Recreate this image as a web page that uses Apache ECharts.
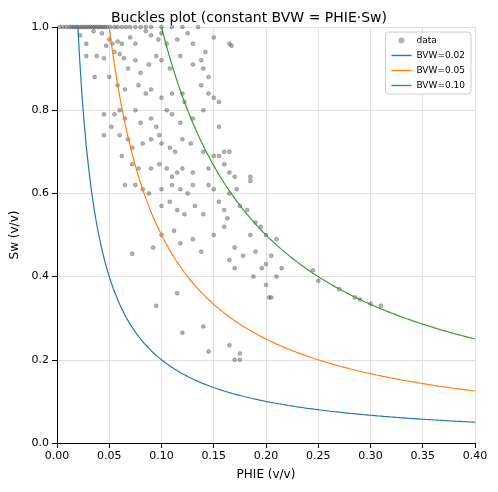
<!DOCTYPE html>
<html><head><meta charset="utf-8">
<script src="https://cdn.jsdelivr.net/npm/echarts@6/dist/echarts.min.js"></script>
<style>body{margin:0}#chart{width:498px;height:492px}</style></head>
<body><div id="chart"></div>
<script>
// scatter points: [PHIE, Sw]
const dataPoints = [
[0.003,1],[0.006,1],[0.009,1],[0.012,1],[0.014,1],[0.016,1],[0.018,1],[0.02,1],[0.022,1],[0.024,1],[0.026,1],[0.028,1],[0.03,1],[0.032,1],[0.034,1],[0.036,1],[0.038,1],[0.04,1],[0.042,1],[0.044,1],[0.046,1],[0.048,1],[0.051,1],[0.055,1],[0.058,1],[0.062,1],[0.066,1],[0.07,1],[0.075,1],[0.08,1],[0.085,1],[0.09,1],[0.1,1],[0.11,1],[0.12,1],[0.135,1],
[0.022,0.98],[0.035,0.99],[0.043,0.985],[0.028,0.96],[0.047,0.955],[0.05,0.97],[0.053,0.96],[0.058,0.965],[0.062,0.96],[0.07,0.975],[0.075,0.96],[0.085,0.99],[0.09,0.98],[0.097,0.97],[0.1,0.985],[0.105,0.96],[0.115,0.97],[0.125,0.985],[0.13,0.96],[0.142,0.94],[0.15,0.975],[0.165,0.96],[0.167,0.955],
[0.028,0.93],[0.038,0.93],[0.045,0.925],[0.055,0.94],[0.06,0.935],[0.064,0.925],[0.068,0.9],[0.075,0.92],[0.08,0.89],[0.088,0.91],[0.095,0.93],[0.1,0.92],[0.108,0.9],[0.118,0.93],[0.13,0.91],[0.138,0.92],[0.14,0.9],[0.145,0.88],
[0.036,0.88],[0.05,0.88],[0.058,0.86],[0.065,0.85],[0.078,0.86],[0.085,0.84],[0.09,0.85],[0.1,0.83],[0.11,0.84],[0.12,0.84],[0.122,0.82],[0.138,0.86],[0.145,0.84],[0.15,0.83],[0.155,0.82],
[0.045,0.79],[0.055,0.79],[0.06,0.8],[0.065,0.78],[0.075,0.8],[0.08,0.77],[0.09,0.78],[0.095,0.76],[0.105,0.8],[0.11,0.79],[0.118,0.77],[0.13,0.78],[0.14,0.8],[0.155,0.76],
[0.045,0.74],[0.052,0.76],[0.06,0.74],[0.068,0.73],[0.072,0.71],[0.082,0.72],[0.09,0.73],[0.098,0.74],[0.1,0.72],[0.108,0.71],[0.113,0.7],[0.12,0.73],[0.128,0.72],[0.14,0.7],[0.15,0.69],[0.155,0.69],[0.16,0.7],[0.165,0.7],
[0.062,0.69],[0.072,0.67],[0.078,0.66],[0.09,0.66],[0.098,0.67],[0.105,0.66],[0.11,0.64],[0.115,0.65],[0.12,0.66],[0.13,0.65],[0.145,0.66],[0.16,0.67],[0.165,0.65],[0.17,0.64],
[0.065,0.62],[0.075,0.62],[0.082,0.61],[0.088,0.6],[0.1,0.61],[0.11,0.62],[0.118,0.61],[0.125,0.6],[0.13,0.62],[0.145,0.62],[0.15,0.61],[0.165,0.6],[0.172,0.61],[0.185,0.63],[0.185,0.64],
[0.1,0.57],[0.108,0.58],[0.115,0.56],[0.122,0.55],[0.132,0.57],[0.14,0.55],[0.155,0.58],[0.16,0.56],[0.175,0.57],[0.182,0.56],[0.19,0.53],[0.195,0.52],[0.2,0.5],[0.21,0.49],
[0.1,0.5],[0.112,0.51],[0.118,0.48],[0.13,0.49],[0.138,0.46],[0.15,0.5],[0.16,0.52],[0.163,0.54],[0.17,0.47],[0.178,0.45],[0.185,0.5],[0.19,0.46],[0.196,0.42],[0.2,0.43],[0.205,0.45],[0.215,0.42],
[0.072,0.455],[0.092,0.47],[0.165,0.44],[0.17,0.42],[0.188,0.4],[0.2,0.38],[0.203,0.35],[0.205,0.35],[0.21,0.4],
[0.095,0.33],[0.115,0.36],[0.12,0.265],[0.14,0.28],[0.145,0.22],[0.165,0.235],[0.17,0.2],[0.175,0.2],[0.175,0.215],
[0.245,0.415],[0.25,0.39],[0.27,0.37],[0.285,0.35],[0.29,0.345],[0.3,0.335],[0.31,0.33]
];
const bvwValues = [0.02, 0.05, 0.10];
const bvwColors = ['#1f77b4', '#ff7f0e', '#2ca02c'];

function curve(b) {
  const pts = [];
  for (let x = b; x <= 0.4001; x += 0.002) pts.push([x, b / x]);
  return pts;
}

const chart = echarts.init(document.getElementById('chart'));
const font = 'DejaVu Sans';
const lineIcon = 'path://M0,0H20V1.4H0Z';
chart.setOption({
  animation: false,
  textStyle: { fontFamily: font },
  title: { text: 'Buckles plot (constant BVW = PHIE·Sw)', left: 'center', top: 6,
    textStyle: { fontFamily: font, fontSize: 14, fontWeight: 'normal', color: '#000' } },
  grid: { left: 57, right: 23, top: 27, bottom: 49 },
  legend: {
    right: 27, top: 32, orient: 'vertical', itemWidth: 20, itemHeight: 6, itemGap: 6,
    backgroundColor: '#fff', borderColor: '#ccc', borderWidth: 1, borderRadius: 3, padding: [4, 6],
    textStyle: { fontSize: 9, color: '#000' },
    data: [{ name: 'data', icon: 'circle', itemStyle: { color: 'rgba(80,80,80,0.55)', borderWidth: 0 } }]
      .concat(bvwValues.map(b => ({ name: 'BVW=' + b.toFixed(2), icon: lineIcon })))
  },
  xAxis: {
    type: 'value', min: 0, max: 0.4, interval: 0.05, name: 'PHIE (v/v)', nameLocation: 'middle', nameGap: 26,
    nameTextStyle: { fontSize: 12, color: '#000' },
    axisLine: { onZero: false, lineStyle: { color: '#000' } }, axisTick: { show: true, lineStyle: { color: '#000' } },
    axisLabel: { color: '#000', fontSize: 11, formatter: v => v.toFixed(2) },
    splitLine: { lineStyle: { color: '#e0e0e0' } }
  },
  yAxis: {
    type: 'value', min: 0, max: 1, interval: 0.2, name: 'Sw (v/v)', nameLocation: 'middle', nameGap: 32,
    nameTextStyle: { fontSize: 12, color: '#000' },
    axisLine: { show: true, lineStyle: { color: '#000' } }, axisTick: { show: true, lineStyle: { color: '#000' } },
    axisLabel: { color: '#000', fontSize: 11, formatter: v => v.toFixed(1) },
    splitLine: { lineStyle: { color: '#e0e0e0' } }
  },
  series: [{
    name: 'data', type: 'scatter', data: dataPoints, symbolSize: 4,
    itemStyle: { color: 'rgba(80,80,80,0.55)', borderColor: 'rgba(40,40,40,0.6)', borderWidth: 0.5 }
  }].concat(bvwValues.map((b, i) => ({
    name: 'BVW=' + b.toFixed(2), type: 'line', data: curve(b), showSymbol: false, symbol: 'none',
    lineStyle: { color: bvwColors[i], width: 1.2 }, itemStyle: { color: bvwColors[i] }
  })))
});
</script></body></html>
